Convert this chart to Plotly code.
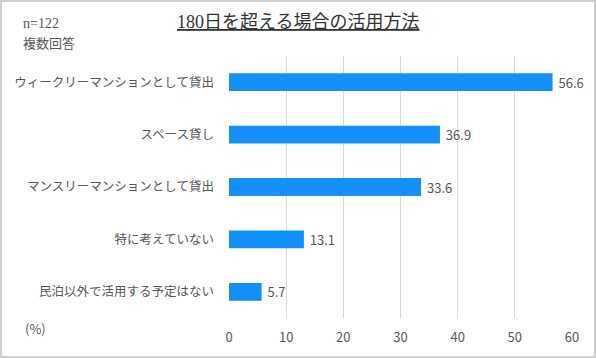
import plotly.graph_objects as go

categories = ["ウィークリーマンションとして貸出", "スペース貸し", "マンスリーマンションとして貸出",
              "特に考えていない", "民泊以外で活用する予定はない"]
values = [56.6, 36.9, 33.6, 13.1, 5.7]
tick_vals = [0, 10, 20, 30, 40, 50, 60]

W, H = 596, 358
ML, MR, MT, MB = 229, 24, 56, 40
PW, PH = W - ML - MR, H - MT - MB

sans = "Noto Sans CJK JP, Noto Sans, sans-serif"
serif = "Liberation Serif, DejaVu Serif, Noto Sans CJK JP, serif"
gray = "#595959"

fig = go.Figure(go.Bar(
    x=values, y=categories, orientation="h",
    marker=dict(color="#1490FA", line=dict(width=0)),
    text=["\u00a0" + f"{v:.1f}" for v in values], textposition="outside",
    textfont=dict(family=sans, size=13, color=gray),
    constraintext="none",
    cliponaxis=False, width=0.34,
))

def px_x(px):
    return (px - ML) / PW

def px_y(py):
    return 1 - (py - MT) / PH

fig.update_layout(
    width=W, height=H,
    margin=dict(l=ML, r=MR, t=MT, b=MB, autoexpand=False),
    paper_bgcolor="white", plot_bgcolor="white",
    showlegend=False,
    xaxis=dict(range=[0, 60], tickvals=tick_vals, showgrid=True, gridcolor="#d9d9d9",
               gridwidth=1, zeroline=False, showline=False, ticks="", automargin=False,
               tickfont=dict(family=sans, size=13, color=gray), ticklabelstandoff=10),
    yaxis=dict(autorange="reversed", showgrid=False, zeroline=False, showline=False,
               ticks="", automargin=False, tickfont=dict(family=sans, size=12.5, color=gray),
               ticklabelstandoff=14),
    annotations=[
        dict(text="<u>180日を超える場合の活用方法</u>", x=px_x(298), xref="paper", y=px_y(22),
             yref="paper", xanchor="center", yanchor="middle", showarrow=False,
             font=dict(family=serif, size=18, color="#333333")),
        dict(text="n=122", x=px_x(21), xref="paper", y=px_y(23), yref="paper",
             xanchor="left", yanchor="middle", showarrow=False,
             font=dict(family=serif, size=14, color=gray)),
        dict(text="複数回答", x=px_x(21), xref="paper", y=px_y(43), yref="paper",
             xanchor="left", yanchor="middle", showarrow=False,
             font=dict(family=sans, size=13, color=gray)),
        dict(text="(%)", x=px_x(23), xref="paper", y=px_y(328), yref="paper",
             xanchor="left", yanchor="middle", showarrow=False,
             font=dict(family=sans, size=13, color=gray)),
    ],
    shapes=[dict(type="rect", xref="paper", yref="paper",
                 x0=px_x(1), x1=px_x(W - 1), y0=px_y(H - 1), y1=px_y(1),
                 line=dict(color="#d0d0d0", width=2), fillcolor="rgba(0,0,0,0)")],
)

fig.write_html("out.html", config={"displayModeBar": False},
               post_script="document.body.style.margin='0';document.body.style.overflow='hidden';")
